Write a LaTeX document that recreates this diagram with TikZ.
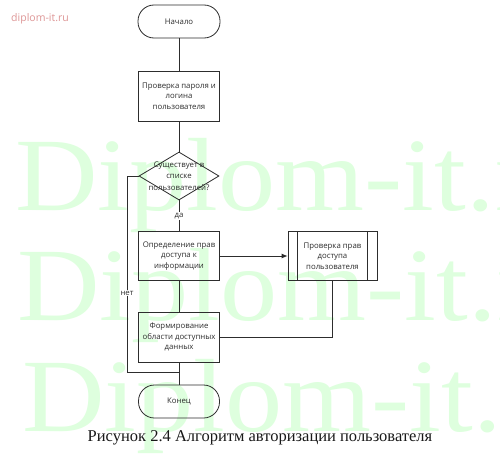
\documentclass[tikz,border=0pt]{standalone}
\usepackage{fontspec}
\setmainfont{Liberation Serif}
\newfontfamily\flowfont{Open Sans}
\newfontfamily\wmfont{Liberation Serif}
\usetikzlibrary{shapes.geometric,arrows.meta}
\definecolor{wmgreen}{RGB}{222,255,222}
\definecolor{ink}{RGB}{45,45,45}
\definecolor{pinkwm}{RGB}{222,150,150}
\tikzset{
  wmtext/.style={text=wmgreen, font=\wmfont\fontsize{104}{104}\selectfont, anchor=base west, inner sep=0, xscale=1.1},
  flow/.style={draw=ink, line width=0.8pt, text=ink, align=center, inner sep=1pt,
    font=\flowfont\fontsize{7.8}{10.5}\selectfont},
  term/.style={flow, rounded corners=16pt, minimum width=82pt, minimum height=33pt},
  proc/.style={flow, minimum width=81pt, minimum height=49pt},
  conn/.style={draw=ink, line width=0.8pt},
  lbl/.style={text=ink, fill=white, inner sep=1pt, font=\flowfont\fontsize{7.8}{9}\selectfont}
}
\begin{document}
\begin{tikzpicture}[x=1pt,y=-1pt]
\clip (0,0) rectangle (500,460);
\fill[white] (0,0) rectangle (500,460);
% watermarks
\node[wmtext] (wm1) at (15,210) {Diplom-it.ru};
\node[wmtext] (wm2) at (17,320) {Diplom-it.ru};
\node[wmtext] (wm3) at (22,431) {Diplom-it.ru};
\node[text=pinkwm, font=\flowfont\fontsize{10.5}{12}\selectfont, inner sep=0] (site) at (40,19) {diplom-it.ru};
% flowchart
\node[term] (start) at (179,21.5) {Начало};
\node[proc, minimum height=50pt] (b1) at (179,96) {Проверка пароля и\\логина\\пользователя};
\node[draw=ink, line width=0.8pt, shape=diamond, minimum width=80pt, minimum height=48pt, inner sep=0] (dia) at (179,176) {};
\node[text=ink, align=center, font=\flowfont\fontsize{7.8}{11.5}\selectfont] (diat) at (dia.center) {Существует в\\списке\\пользователей?};
\node[proc] (b2) at (179,256) {Определение прав\\доступа к\\информации};
\node[proc, minimum width=89pt] (b3) at (332.5,256) {Проверка прав\\доступа\\пользователя};
\draw[conn] ([xshift=9.5pt]b3.north west) -- ([xshift=9.5pt]b3.south west);
\draw[conn] ([xshift=-10pt]b3.north east) -- ([xshift=-10pt]b3.south east);
\node[proc, minimum height=50pt] (b4) at (179,337) {Формирование\\области доступных\\данных};
\node[term, minimum width=81pt] (end) at (179,401.5) {Конец};
\node[font=\fontsize{16.5}{19}\selectfont, text=black!90] (cap) at (260,438) {Рисунок 2.4 Алгоритм авторизации пользователя};
% connectors
\coordinate (jn) at (179,372);
\coordinate (bl) at (127,372);
\draw[conn] (start) -- (b1);
\draw[conn] (b1) -- (dia);
\draw[conn] (dia) -- (b2);
\draw[conn] (b2) -- (b4);
\draw[conn] (b4) -- (end);
\draw[conn] (dia.west) -| (bl) -- (jn);
\draw[conn, -{Latex[length=6pt,width=5pt]}] (b2.east) -- (b3.west);
\draw[conn] (b3.south) |- (b4.east);
\node[lbl] (yes) at (179,216) {да};
\node[lbl] (no) at (127,293) {нет};
\end{tikzpicture}
\end{document}
